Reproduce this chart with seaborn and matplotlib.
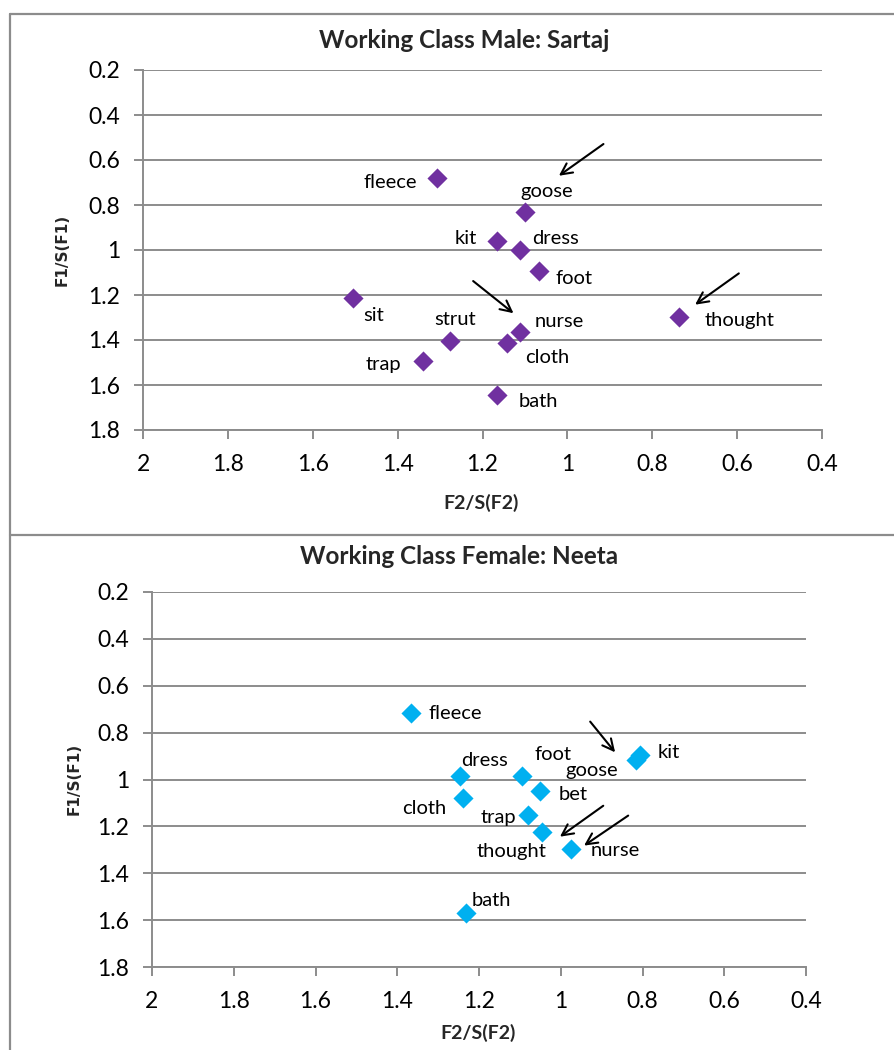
import matplotlib
matplotlib.use("Agg")
import matplotlib.pyplot as plt
from matplotlib.ticker import FuncFormatter
from matplotlib.lines import Line2D
import seaborn as sns
import pandas as pd

# ---- data: normalised formants, F2/S(F2) on x, F1/S(F1) on y ----
male_vowels = ["fleece", "goose", "kit", "dress", "foot", "sit", "thought",
               "nurse", "strut", "cloth", "trap", "bath"]
male_f2 = [1.307, 1.099, 1.165, 1.111, 1.066, 1.505, 0.736,
           1.111, 1.276, 1.142, 1.340, 1.165]
male_f1 = [0.680, 0.831, 0.960, 1.000, 1.093, 1.213, 1.298,
           1.364, 1.404, 1.413, 1.493, 1.644]

female_vowels = ["fleece", "kit", "goose", "dress", "foot", "bet", "cloth",
                 "trap", "thought", "nurse", "bath"]
female_f2 = [1.366, 0.806, 0.815, 1.247, 1.094, 1.050, 1.238,
             1.081, 1.047, 0.975, 1.232]
female_f1 = [0.717, 0.896, 0.915, 0.983, 0.983, 1.047, 1.080,
             1.152, 1.222, 1.296, 1.569]

x_ticks = [2, 1.8, 1.6, 1.4, 1.2, 1, 0.8, 0.6, 0.4]
y_ticks = [0.2, 0.4, 0.6, 0.8, 1, 1.2, 1.4, 1.6, 1.8]

titles = ["Working Class Male: Sartaj", "Working Class Female: Neeta"]

# ---- label placement (pixel offsets from each point, alignment) ----
male_label_pos = {
    "fleece": (-20, -4, "right"), "goose": (21, 20, "center"),
    "kit": (-20, 2, "right"), "dress": (12, 11, "left"),
    "foot": (16, -8, "left"), "sit": (10, -18, "left"),
    "thought": (25, -3, "left"), "nurse": (14, 10, "left"),
    "strut": (5, 21, "center"), "cloth": (18, -15, "left"),
    "trap": (-22, -4, "right"), "bath": (21, -7, "left"),
}
female_label_pos = {
    "fleece": (17, 0, "left"), "kit": (18, 3, "left"),
    "goose": (-18, -11, "right"), "dress": (1, 15, "left"),
    "foot": (12, 21, "left"), "bet": (18, -4, "left"),
    "cloth": (-17, -10, "right"), "trap": (-11, -2, "right"),
    "thought": (5, -20, "right"), "nurse": (20, -2, "left"),
    "bath": (6, 12, "left"),
}

# arrows (tail -> head) in data coordinates
male_arrows = [((0.915, 0.529), (1.020, 0.670)),
               ((1.222, 1.138), (1.127, 1.281)),
               ((0.596, 1.104), (0.699, 1.243))]
female_arrows = [((0.928, 0.753), (0.867, 0.884)),
                 ((0.896, 1.112), (1.002, 1.244)),
                 ((0.835, 1.154), (0.943, 1.282))]

sns.set_theme(style="white")
plt.rcParams["font.family"] = ["Lato", "DejaVu Sans"]

GRID = "#8c8c8c"
W, H = 894, 1050
fig = plt.figure(figsize=(W / 100, H / 100), dpi=100)
fig.patch.set_facecolor("white")


def px_box(left, top, right, bottom):
    return [left / W, 1 - bottom / H, (right - left) / W, (bottom - top) / H]


panels = [
    dict(box=px_box(143, 70, 822, 430), vowels=male_vowels, f2=male_f2,
         f1=male_f1, color="#7030A0", labels=male_label_pos,
         arrows=male_arrows, title=titles[0], title_xy=(464, 40),
         ylab_xy=(62, 250), xlab_xy=(481, 503)),
    dict(box=px_box(152, 592, 806, 967), vowels=female_vowels, f2=female_f2,
         f1=female_f1, color="#00B0F0", labels=female_label_pos,
         arrows=female_arrows, title=titles[1], title_xy=(459, 557),
         ylab_xy=(74, 779), xlab_xy=(478, 1033)),
]

# chart frames
frame_kw = dict(color=GRID, lw=1.6, transform=fig.transFigure)
fig.add_artist(Line2D([10 / W, 10 / W], [0, 1 - 14 / H], **frame_kw))
fig.add_artist(Line2D([10 / W, 1.01], [1 - 14 / H, 1 - 14 / H], **frame_kw))
fig.add_artist(Line2D([10 / W, 1.01], [1 - 535 / H, 1 - 535 / H], **frame_kw))

fmt = FuncFormatter(lambda v, _: f"{v:g}")

for p in panels:
    ax = fig.add_axes(p["box"])
    df = pd.DataFrame({"vowel": p["vowels"], "F2": p["f2"], "F1": p["f1"]})
    sns.scatterplot(data=df, x="F2", y="F1", marker="D", s=105,
                    color=p["color"], linewidth=0, ax=ax, zorder=3)

    ax.set_xlim(2, 0.4)
    ax.set_ylim(1.8, 0.2)
    ax.set_xticks(x_ticks)
    ax.set_yticks(y_ticks)
    ax.xaxis.set_major_formatter(fmt)
    ax.yaxis.set_major_formatter(fmt)
    ax.set_xlabel("")
    ax.set_ylabel("")

    ax.yaxis.grid(True, color=GRID, lw=1.4)
    ax.xaxis.grid(False)
    ax.set_axisbelow(True)
    for side in ("top", "right"):
        ax.spines[side].set_visible(False)
    for side in ("left", "bottom"):
        ax.spines[side].set_color(GRID)
        ax.spines[side].set_linewidth(1.4)
    ax.tick_params(axis="both", direction="out", length=6.5, width=1.4,
                   color=GRID, labelsize=16.5, labelcolor="black")
    ax.tick_params(axis="y", pad=10)
    ax.tick_params(axis="x", pad=11)
    ax.tick_params(bottom=True, left=True)

    for v, x, y in zip(p["vowels"], p["f2"], p["f1"]):
        dx, dy, ha = p["labels"][v]
        ax.annotate(v, (x, y), xytext=(dx, dy), textcoords="offset pixels",
                    ha=ha, va="center", fontsize=14.5, color="black")

    for tail, head in p["arrows"]:
        ax.annotate("", xy=head, xytext=tail,
                    arrowprops=dict(arrowstyle="->", color="black", lw=1.5,
                                    mutation_scale=20, shrinkA=0, shrinkB=0))

    tx, ty = p["title_xy"]
    fig.text(tx / W, 1 - ty / H, p["title"], ha="center", va="center",
             fontsize=17.5, fontweight="bold")
    yx, yy = p["ylab_xy"]
    fig.text(yx / W, 1 - yy / H, "F1/S(F1)", rotation=90, ha="center",
             va="center", fontsize=11, fontweight="bold",
             family="DejaVu Sans")
    xx, xy = p["xlab_xy"]
    fig.text(xx / W, 1 - xy / H, "F2/S(F2)", ha="center", va="center",
             fontsize=14, fontweight="bold")

fig.savefig("out.png", dpi=100, facecolor="white")
